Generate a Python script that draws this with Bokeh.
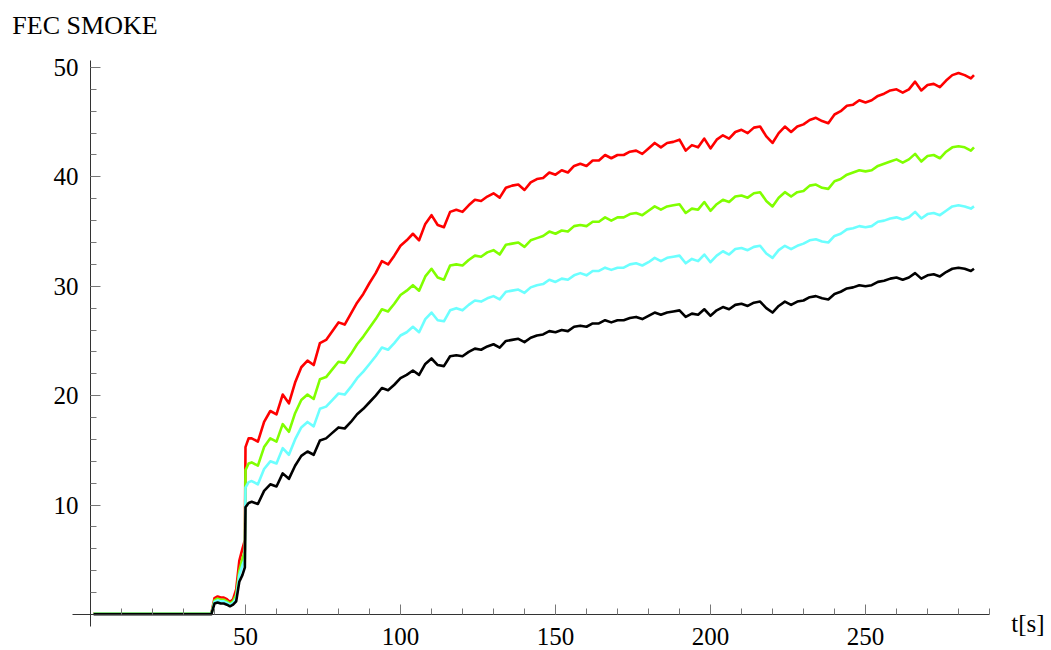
from bokeh.plotting import figure
from bokeh.models import Range1d, FixedTicker, Label
from bokeh.embed import file_html
from bokeh.resources import INLINE

# ---- data ----
times = [1, 39, 40, 41, 42, 43, 44, 45, 46, 47, 48, 49, 49.8, 50, 51] + list(range(52, 285, 2)) + [285]

black = [0.03, 0.03, 1.0, 1.1, 1.0, 1.0, 0.9, 0.75, 0.9, 1.2, 3.0, 3.6, 4.3, 9.8, 10.2,
         10.3, 10.1, 11.3, 11.9, 11.7, 12.9, 12.4, 13.6, 14.5, 14.9,
         14.6, 15.9, 16.1, 16.6, 17.1, 17.0, 17.6, 18.3, 18.8, 19.4,
         20.0, 20.7, 20.5, 21.0, 21.6, 21.9, 22.3, 21.9, 22.9, 23.4,
         22.8, 22.7, 23.6, 23.7, 23.6, 24.0, 24.3, 24.2, 24.5, 24.7,
         24.4, 25.0, 25.1, 25.2, 24.9, 25.3, 25.5, 25.6, 25.9, 25.8,
         26.0, 25.9, 26.3, 26.4, 26.3, 26.6, 26.6, 26.9, 26.7, 26.9,
         26.9, 27.1, 27.2, 27.0, 27.3, 27.6, 27.4, 27.6, 27.7, 27.8,
         27.2, 27.5, 27.4, 27.9, 27.3, 27.8, 28.1, 27.9, 28.3, 28.4,
         28.2, 28.5, 28.6, 28.0, 27.6, 28.2, 28.6, 28.3, 28.6, 28.7,
         29.0, 29.1, 28.9, 28.8, 29.3, 29.5, 29.8, 29.9, 30.1, 30.0,
         30.1, 30.4, 30.5, 30.7, 30.8, 30.6, 30.8, 31.2, 30.7, 31.0,
         31.1, 30.9, 31.3, 31.6, 31.7, 31.6, 31.4,
         31.6]

cyan = [0.07, 0.07, 1.15, 1.3, 1.2, 1.2, 1.05, 0.9, 1.05, 1.5, 3.6, 4.5, 5.1, 11.6, 12.1,
        12.2, 11.9, 13.3, 14.0, 13.8, 15.2, 14.6, 16.0, 17.1, 17.6,
        17.2, 18.8, 19.0, 19.6, 20.2, 20.1, 20.8, 21.6, 22.2, 22.9,
        23.6, 24.4, 24.2, 24.8, 25.5, 25.8, 26.3, 25.8, 27.0, 27.6,
        26.9, 26.8, 27.8, 28.0, 27.8, 28.3, 28.7, 28.6, 28.9, 29.1,
        28.8, 29.5, 29.6, 29.7, 29.4, 29.9, 30.1, 30.2, 30.6, 30.4,
        30.7, 30.6, 31.0, 31.2, 31.0, 31.4, 31.4, 31.7, 31.5, 31.7,
        31.7, 32.0, 32.1, 31.9, 32.2, 32.6, 32.3, 32.6, 32.7, 32.8,
        32.1, 32.5, 32.3, 32.9, 32.2, 32.8, 33.2, 32.9, 33.4, 33.5,
        33.3, 33.6, 33.7, 33.0, 32.6, 33.3, 33.7, 33.4, 33.7, 33.9,
        34.2, 34.3, 34.1, 34.0, 34.6, 34.8, 35.2, 35.3, 35.5, 35.4,
        35.5, 35.9, 36.0, 36.2, 36.3, 36.1, 36.3, 36.8, 36.2, 36.6,
        36.7, 36.5, 36.9, 37.3, 37.4, 37.3, 37.1,
        37.3]

green = [0.09, 0.09, 1.3, 1.45, 1.35, 1.35, 1.2, 1.0, 1.2, 1.8, 4.0, 5.1, 5.8, 13.2, 13.8,
         13.9, 13.6, 15.3, 16.1, 15.8, 17.4, 16.7, 18.4, 19.6, 20.1,
         19.7, 21.5, 21.7, 22.4, 23.1, 23.0, 23.8, 24.7, 25.4, 26.2,
         27.0, 27.9, 27.7, 28.4, 29.2, 29.6, 30.1, 29.6, 30.9, 31.6,
         30.8, 30.6, 31.9, 32.0, 31.9, 32.4, 32.8, 32.7, 33.1, 33.3,
         32.9, 33.8, 33.9, 34.0, 33.6, 34.2, 34.4, 34.6, 35.0, 34.8,
         35.1, 35.0, 35.5, 35.6, 35.5, 35.9, 35.9, 36.3, 36.0, 36.3,
         36.3, 36.6, 36.7, 36.5, 36.9, 37.3, 37.0, 37.3, 37.4, 37.5,
         36.7, 37.1, 37.0, 37.7, 36.9, 37.5, 37.9, 37.7, 38.2, 38.3,
         38.1, 38.5, 38.6, 37.8, 37.3, 38.1, 38.6, 38.2, 38.6, 38.7,
         39.2, 39.3, 39.0, 38.9, 39.6, 39.8, 40.2, 40.4, 40.6, 40.5,
         40.6, 41.0, 41.2, 41.4, 41.6, 41.3, 41.6, 42.1, 41.4, 41.9,
         42.0, 41.7, 42.3, 42.7, 42.8, 42.7, 42.4,
         42.7]

red = [0.11, 0.11, 1.5, 1.65, 1.55, 1.55, 1.4, 1.15, 1.4, 2.3, 4.9, 6.0, 6.8, 15.3, 16.1,
       16.1, 15.8, 17.6, 18.6, 18.3, 20.1, 19.3, 21.2, 22.6, 23.2,
       22.8, 24.8, 25.1, 25.9, 26.7, 26.5, 27.5, 28.5, 29.3, 30.3,
       31.2, 32.3, 32.0, 32.8, 33.7, 34.2, 34.8, 34.2, 35.7, 36.5,
       35.6, 35.4, 36.8, 37.0, 36.8, 37.4, 37.9, 37.8, 38.2, 38.5,
       38.1, 39.0, 39.2, 39.3, 38.8, 39.5, 39.8, 39.9, 40.4, 40.2,
       40.6, 40.4, 41.0, 41.2, 41.0, 41.5, 41.5, 42.0, 41.7, 42.0,
       42.0, 42.3, 42.4, 42.1, 42.6, 43.1, 42.7, 43.1, 43.2, 43.4,
       42.4, 42.9, 42.7, 43.5, 42.6, 43.4, 43.8, 43.5, 44.1, 44.3,
       44.0, 44.5, 44.6, 43.7, 43.1, 44.0, 44.6, 44.1, 44.6, 44.8,
       45.2, 45.4, 45.1, 44.9, 45.7, 46.0, 46.5, 46.6, 47.0, 46.8,
       47.0, 47.4, 47.6, 47.9, 48.0, 47.7, 48.0, 48.7, 47.9, 48.4,
       48.5, 48.2, 48.8, 49.3, 49.5, 49.3, 49.0,
       49.3]

x_ticks = [50, 100, 150, 200, 250]
x_minor = list(range(10, 300, 10))
y_ticks = [10, 20, 30, 40, 50]
y_minor = list(range(2, 52, 2))

title_text = "FEC SMOKE"
x_label_text = "t[s]"

FONT = "Liberation Serif"

# frame covers the whole canvas; x: 3.1 px per second with t=0 at px 90,
# y: 10.94 px per unit with 0 at px 614
p = figure(width=1051, height=650, output_backend="svg", toolbar_location=None,
           x_range=Range1d(-29.03, 310.0), y_range=Range1d(-3.29, 56.12),
           min_border_left=0, min_border_right=0, min_border_top=0, min_border_bottom=0)
p.outline_line_color = None
p.grid.visible = False
p.background_fill_color = "white"
p.border_fill_color = "white"

for ax, tk, mn in ((p.xaxis[0], x_ticks, x_minor), (p.yaxis[0], y_ticks, y_minor)):
    ax.fixed_location = 0
    ax.ticker = FixedTicker(ticks=tk, minor_ticks=mn)
    ax.axis_line_color = "#333333"
    ax.axis_line_width = 1
    ax.major_tick_in = 10
    ax.major_tick_out = 0
    ax.minor_tick_in = 6
    ax.minor_tick_out = 0
    ax.major_tick_line_color = "#777777"
    ax.minor_tick_line_color = "#777777"
    ax.major_label_text_font = FONT
    ax.major_label_text_font_size = "25px"
    ax.major_label_text_color = "black"

p.xaxis[0].bounds = (-5.8, 290)
p.yaxis[0].bounds = (-1.1, 50.64)
p.xaxis[0].major_label_standoff = 13
p.yaxis[0].major_label_standoff = 12

for ys, col in ((red, "#FF0000"), (green, "#80FF00"), (cyan, "#6CFFFF"), (black, "#000000")):
    p.line(times, ys, line_color=col, line_width=2.6, line_join="round")

p.add_layout(Label(x=-25.2, y=53.85, text=title_text, text_font=FONT, text_font_size="26px",
                   text_color="black", text_baseline="alphabetic"))
p.add_layout(Label(x=297, y=-0.8, text=x_label_text, text_font=FONT, text_font_size="25px",
                   text_color="black", text_baseline="alphabetic"))

open("out.html", "w").write(file_html(p, INLINE))
